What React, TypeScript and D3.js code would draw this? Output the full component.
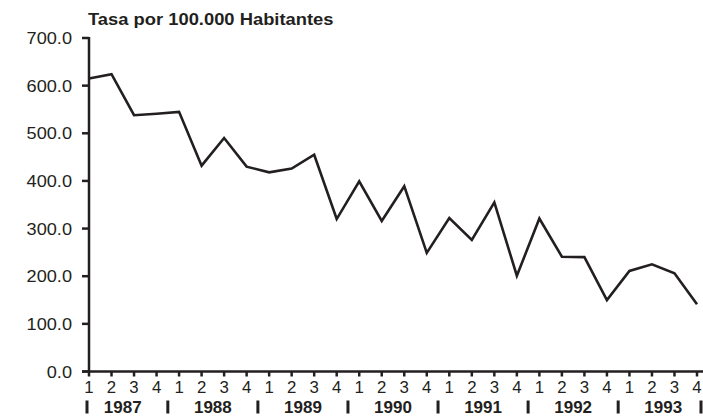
import React from "react";
import * as d3 from "d3";

const years = ["1987", "1988", "1989", "1990", "1991", "1992", "1993"];
const quarters = ["1", "2", "3", "4"];
const rates = [
  615, 624, 538, 541,
  545, 432, 490, 430,
  418, 426, 455, 320,
  399, 316, 389, 249,
  322, 276, 355, 201,
  321, 241, 240, 150,
  211, 225, 206, 141,
];
const yTicks = [0, 100, 200, 300, 400, 500, 600, 700];
const title = "Tasa por 100.000 Habitantes";

const W = 703;
const H = 416;
const FONT = "'Liberation Sans', Arial, sans-serif";
const INK = "#231f20";

export default function App() {
  const x0 = 89;
  const x1 = 697;
  const yBottom = 371.5;
  const yTop = 38;

  const idx = d3.range(rates.length);
  const x = d3.scaleLinear().domain([0, rates.length - 1]).range([x0, x1]);
  const y = d3.scaleLinear().domain([0, 700]).range([yBottom, yTop]);

  const line = d3
    .line<number>()
    .x((_, i) => x(i))
    .y((d) => y(d));

  const step = x(1) - x(0);

  return (
    <svg
      width={W}
      height={H}
      viewBox={`0 0 ${W} ${H}`}
      style={{ position: "absolute", left: 0, top: 0, background: "#fff" }}
    >
      <rect x={0} y={0} width={W} height={H} fill="#fff" />
      {/* title */}
      <text
        transform={`translate(${x0 - 1},25) scale(1.08,1)`}
        fontFamily={FONT}
        fontWeight="bold"
        fontSize={17}
        fill={INK}
      >
        {title}
      </text>

      {/* y axis */}
      <line x1={x0} x2={x0} y1={yTop - 1} y2={yBottom + 1} stroke={INK} strokeWidth={2.5} />
      {yTicks.map((t) => (
        <g key={t}>
          <line x1={x0 - 7} x2={x0} y1={y(t)} y2={y(t)} stroke={INK} strokeWidth={2.5} />
          <text
            transform={`translate(${x0 - 17},${y(t) + 6}) scale(1.1,1)`}
            textAnchor="end"
            fontFamily={FONT}
            fontSize={16.5}
            fill={INK}
          >
            {t.toFixed(1)}
          </text>
        </g>
      ))}

      {/* x axis */}
      <line x1={x0 - 7} x2={W} y1={yBottom} y2={yBottom} stroke={INK} strokeWidth={2.5} />
      {idx.map((i) => (
        <g key={i}>
          <line x1={x(i)} x2={x(i)} y1={yBottom} y2={yBottom + 5} stroke={INK} strokeWidth={2.5} />
          <text
            transform={`translate(${x(i)},${yBottom + 21}) scale(1.05,1)`}
            textAnchor="middle"
            fontFamily={FONT}
            fontSize={16}
            fill={INK}
          >
            {quarters[i % 4]}
          </text>
        </g>
      ))}
      {years.map((yr, k) => {
        const mid = (x(k * 4 + 1) + x(k * 4 + 2)) / 2;
        return (
          <text
            key={yr}
            transform={`translate(${mid},${yBottom + 41})`}
            textAnchor="middle"
            fontFamily={FONT}
            fontWeight="bold"
            fontSize={17}
            fill={INK}
          >
            {yr}
          </text>
        );
      })}
      {d3.range(years.length + 1).map((k) => {
        const bx =
          k === 0 ? x(0) - 2 : k === years.length ? x(rates.length - 1) + 4 : x(k * 4) - step / 2;
        return (
          <line
            key={k}
            x1={bx}
            x2={bx}
            y1={yBottom + 29}
            y2={yBottom + 42}
            stroke={INK}
            strokeWidth={3}
          />
        );
      })}

      {/* data line */}
      <path
        d={line(rates) || ""}
        fill="none"
        stroke={INK}
        strokeWidth={2.6}
        strokeLinejoin="miter"
      />
    </svg>
  );
}
